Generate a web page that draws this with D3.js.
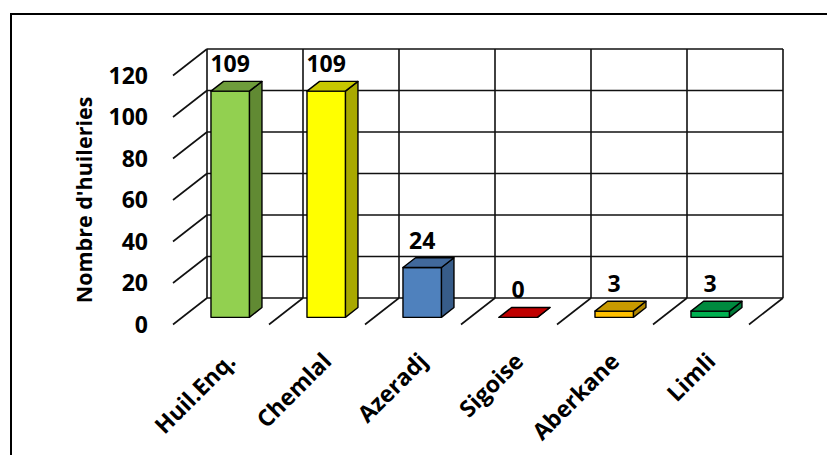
<!DOCTYPE html>
<html><head><meta charset="utf-8">
<script src="https://cdn.jsdelivr.net/npm/d3@7"></script>
<style>
html,body{margin:0;padding:0;background:#fff;}
text{font-family:"Open Sans",sans-serif;font-weight:bold;fill:#000;}
</style></head>
<body><svg id="chart" width="827" height="455"></svg>
<script>
const categories = ["Huil.Enq.", "Chemlal", "Azeradj", "Sigoise", "Aberkane", "Limli"];
const values = [109, 109, 24, 0, 3, 3];
const yTicks = [0, 20, 40, 60, 80, 100, 120];
const frontColors = ["#92D050", "#FFFF00", "#4F81BD", "#C00000", "#FFC000", "#00B050"];
const sideColors  = ["#618A33", "#A9A900", "#375C89", "#8A0000", "#B08600", "#007A38"];
const topColors   = ["#6E9C3B", "#C8C800", "#41699C", "#C00000", "#C89A00", "#008A3F"];
const yTitle = "Nombre d'huileries";

const svg = d3.select("#chart");

// outer border
svg.append("rect").attr("x", 11).attr("y", 14).attr("width", 900).attr("height", 600)
  .attr("fill", "none").attr("stroke", "#000").attr("stroke-width", 2);

// 3D geometry
const DX = -34, DY = 26.5;
const x = d3.scaleBand().domain(categories).range([207, 783]).paddingInner(0.6).paddingOuter(0.3);
const y = d3.scaleLinear().domain([0, 120]).range([298, 49]);
const P = (xb, v, z) => [xb + DX * z, y(v) + DY * z];
const x0 = x.range()[0], x1 = x.range()[1], step = x.step();
const bounds = d3.range(categories.length + 1).map(i => x0 + i * step);

const gridStroke = "#111", gw = 1.6;
const g = svg.append("g");
g.selectAll("line.hg").data(yTicks).join("line")
  .attr("x1", x0).attr("x2", x1).attr("y1", d => y(d)).attr("y2", d => y(d))
  .attr("stroke", gridStroke).attr("stroke-width", gw);
g.selectAll("line.vg").data(bounds).join("line")
  .attr("x1", d => d).attr("x2", d => d).attr("y1", y(120)).attr("y2", y(0))
  .attr("stroke", gridStroke).attr("stroke-width", gw);
g.selectAll("line.lg").data(yTicks).join("line")
  .attr("x1", d => P(x0, d, 1)[0]).attr("y1", d => P(x0, d, 1)[1])
  .attr("x2", d => P(x0, d, 0)[0]).attr("y2", d => P(x0, d, 0)[1])
  .attr("stroke", gridStroke).attr("stroke-width", gw);
g.selectAll("line.fg").data(bounds.slice(1)).join("line")
  .attr("x1", d => P(d, 0, 1)[0]).attr("y1", d => P(d, 0, 1)[1])
  .attr("x2", d => P(d, 0, 0)[0]).attr("y2", d => P(d, 0, 0)[1])
  .attr("stroke", gridStroke).attr("stroke-width", gw);

// y tick labels
svg.selectAll("text.yt").data(yTicks).join("text")
  .attr("x", 148).attr("y", d => P(x0, d, 1)[1]).attr("dy", "0.36em")
  .attr("text-anchor", "end").style("font-size", "23px").text(d => d);

// y title
svg.append("text").attr("transform", "translate(92,200) rotate(-90)")
  .attr("text-anchor", "middle").style("font-size", "21.5px").text(yTitle);

// bars
const zf = 0.73, zb = 0.36;
const bw = x.bandwidth();
const line = pts => "M" + pts.map(p => p.join(",")).join("L") + "Z";
const bars = svg.append("g").selectAll("g").data(categories).join("g");
bars.each(function(c, i) {
  const gg = d3.select(this);
  const xl = x(c), xr = xl + bw, v = values[i];
  const add = (pts, fill) => gg.append("path").attr("d", line(pts)).attr("fill", fill)
    .attr("stroke", "#000").attr("stroke-width", 1.4).attr("stroke-linejoin", "round");
  add([P(xr, 0, zf), P(xr, 0, zb), P(xr, v, zb), P(xr, v, zf)], sideColors[i]);
  add([P(xl, 0, zf), P(xr, 0, zf), P(xr, v, zf), P(xl, v, zf)], frontColors[i]);
  add([P(xl, v, zf), P(xr, v, zf), P(xr, v, zb), P(xl, v, zb)], topColors[i]);
  gg.append("text").attr("x", (xl + xr) / 2 + DX * zf).attr("y", P(xl, v, zf)[1] - 19)
    .attr("text-anchor", "middle").style("font-size", "23px").text(v);
});

// category labels
svg.selectAll("text.cat").data(categories).join("text")
  .attr("transform", c => {
    const cx = x(c) + bw / 2 + DX + 10;
    return `translate(${cx},357) rotate(-45)`;
  })
  .attr("dy", "0.36em").attr("text-anchor", "end").style("font-size", "23px").text(c => c);
</script></body></html>
